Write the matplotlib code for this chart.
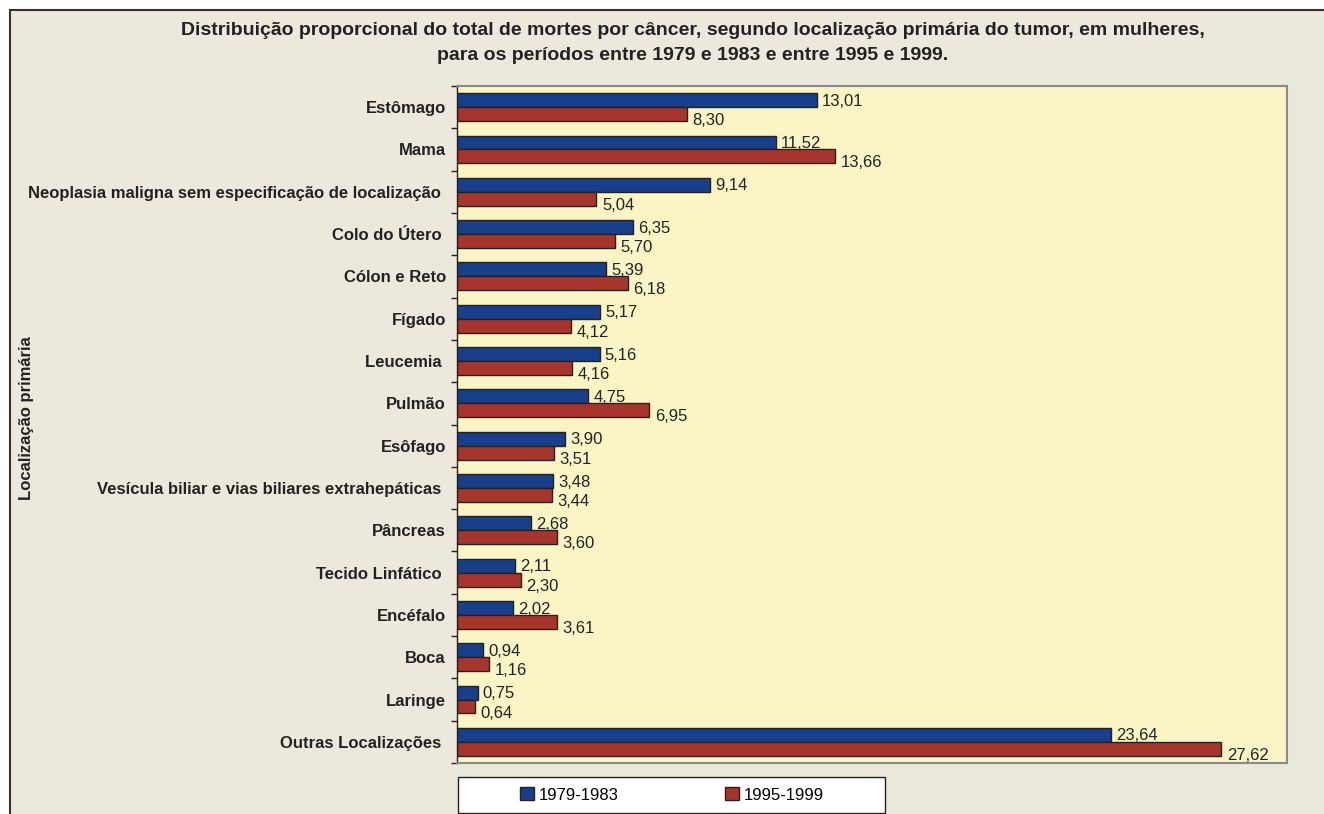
import matplotlib
matplotlib.use("Agg")
import matplotlib.pyplot as plt
from matplotlib.patches import Rectangle, Patch

plt.rcParams['font.family'] = ['Liberation Sans', 'DejaVu Sans']

categories = ["Estômago", "Mama", "Neoplasia maligna sem especificação de localização ",
              "Colo do Útero ", "Cólon e Reto", "Fígado", "Leucemia ", "Pulmão",
              "Esôfago", "Vesícula biliar e vias biliares extrahepáticas ", "Pâncreas",
              "Tecido Linfático ", "Encéfalo", "Boca", "Laringe", "Outras Localizações "]
p1979 = [13.01, 11.52, 9.14, 6.35, 5.39, 5.17, 5.16, 4.75, 3.90, 3.48, 2.68, 2.11, 2.02, 0.94, 0.75, 23.64]
p1995 = [8.30, 13.66, 5.04, 5.70, 6.18, 4.12, 4.16, 6.95, 3.51, 3.44, 3.60, 2.30, 3.61, 1.16, 0.64, 27.62]
series_names = ["1979-1983", "1995-1999"]
title = ("Distribuição proporcional do total de mortes por câncer, segundo localização primária do tumor, em mulheres,\n"
         "para os períodos entre 1979 e 1983 e entre 1995 e 1999.")

W, H = 1324, 814
fig = plt.figure(figsize=(W / 100, H / 100), dpi=100)
fig.patch.set_facecolor('white')

def fx(px):
    return px / W

def fy(py):
    return 1 - py / H

# outer frame
bg = Rectangle((fx(10), -0.1), 1.2, fy(10) + 0.1, transform=fig.transFigure,
               facecolor='#ECE9DC', edgecolor='#333333', linewidth=1.5, zorder=-10)
fig.patches.append(bg)

ax = fig.add_axes([fx(457), fy(763), fx(1287) - fx(457), fy(86) - fy(763)])
ax.set_facecolor('#FBF5C5')

blue = '#183F8B'
red = '#A7352B'
n = len(categories)
ys = list(range(n))
h = 0.33
ax.barh([y - h / 2 for y in ys], p1979, height=h, color=blue, edgecolor='#222222', linewidth=1, label=series_names[0])
ax.barh([y + h / 2 for y in ys], p1995, height=h, color=red, edgecolor='#222222', linewidth=1, label=series_names[1])

def fmt(v):
    return f"{v:.2f}".replace('.', ',')

for y, v in zip(ys, p1979):
    ax.annotate(fmt(v), (v, y - h / 2), xytext=(3.6, -0.8), textcoords='offset points',
                ha='left', va='center', fontsize=12, color='#222222')
for y, v in zip(ys, p1995):
    ax.annotate(fmt(v), (v, y + h / 2), xytext=(4.0, -4.7), textcoords='offset points',
                ha='left', va='center', fontsize=12, color='#222222')

ax.set_xlim(0, 30)
ax.set_ylim(n - 0.5, -0.5)
ax.set_xticks([])
ax.set_yticks(ys)
ax.set_yticklabels(categories, fontsize=12, fontweight='bold', color='#222222')
ax.tick_params(axis='y', which='major', length=0, pad=8)
ax.set_yticks([y - 0.5 for y in range(n + 1)], minor=True)
ax.tick_params(axis='y', which='minor', length=4, width=1, color='#222222', direction='out')

ax.spines['left'].set_color('#222222')
ax.spines['left'].set_linewidth(1)
for s in ['top', 'right', 'bottom']:
    ax.spines[s].set_color('#8A8A8A')
    ax.spines[s].set_linewidth(1.5)

fig.text(fx(27), fy(418), "Localização primária", rotation=90, ha='center', va='center',
         fontsize=12, fontweight='bold', color='#222222')

fig.text(fx(693), fy(43), title, ha='center', va='center', fontsize=14, fontweight='bold',
         color='#222222', linespacing=1.65)

# legend
fig.patches.append(Rectangle((fx(458), fy(813)), fx(885) - fx(458), fy(777) - fy(813),
                             transform=fig.transFigure, facecolor='white', edgecolor='#222222',
                             linewidth=1, zorder=1))
handles = [Patch(facecolor=blue, edgecolor='#222222', linewidth=1),
           Patch(facecolor=red, edgecolor='#222222', linewidth=1)]
leg = fig.legend(handles, series_names, loc='center', bbox_to_anchor=(fx(672), fy(795)),
                 ncol=2, frameon=False, fontsize=12, handlelength=0.8, handleheight=0.8,
                 handletextpad=0.3, columnspacing=6.4, borderaxespad=0)
leg.set_zorder(2)

fig.savefig('out.png', dpi=100, facecolor=fig.get_facecolor())
